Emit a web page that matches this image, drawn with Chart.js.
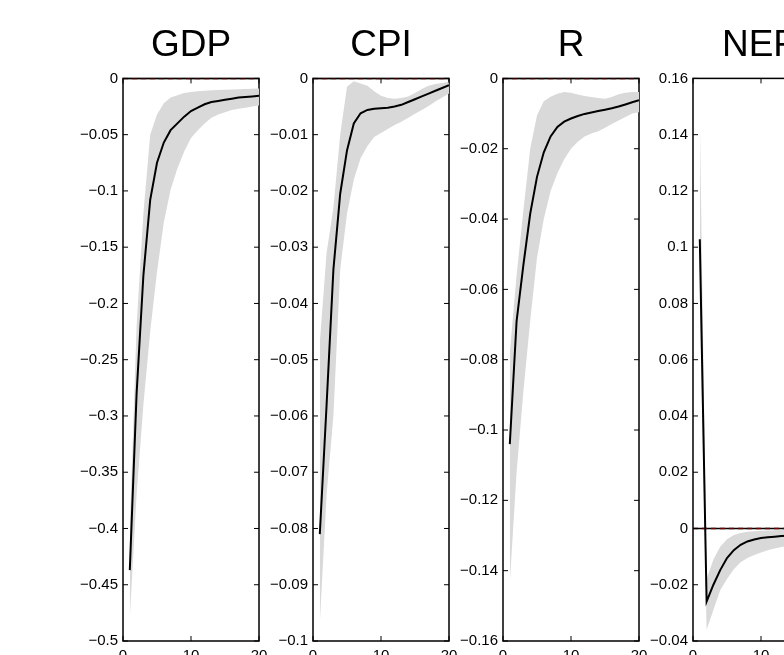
<!DOCTYPE html>
<html>
<head>
<meta charset="utf-8">
<script src="https://cdn.jsdelivr.net/npm/chart.js@4.4.0/dist/chart.umd.min.js"></script>
<style>
html, body { margin: 0; padding: 0; background: #fff; overflow: hidden; }
body { width: 784px; height: 655px; position: relative; }
canvas { position: absolute; top: 0; }
</style>
</head>
<body>
<canvas id="c0" width="256" height="700" style="left:63px"></canvas>
<canvas id="c1" width="256" height="700" style="left:253px"></canvas>
<canvas id="c2" width="256" height="700" style="left:443px"></canvas>
<canvas id="c3" width="256" height="700" style="left:633px"></canvas>
<script>
const steps = [1, 2, 3, 4, 5, 6, 7, 8, 9, 10, 11, 12, 13, 14, 15, 16, 17, 18, 19, 20];
const xTicks = [0, 10, 20];
const zeroX = [0, 20];

const titles = ['GDP', 'CPI', 'R', 'NER'];

const gdpTicks = [-0.5, -0.45, -0.4, -0.35, -0.3, -0.25, -0.2, -0.15, -0.1, -0.05, 0];
const cpiTicks = [-0.1, -0.09, -0.08, -0.07, -0.06, -0.05, -0.04, -0.03, -0.02, -0.01, 0];
const rTicks = [-0.16, -0.14, -0.12, -0.1, -0.08, -0.06, -0.04, -0.02, 0];
const nerTicks = [-0.04, -0.02, 0, 0.02, 0.04, 0.06, 0.08, 0.1, 0.12, 0.14, 0.16];

const gdpMid = [-0.437, -0.28, -0.175, -0.108, -0.075, -0.057, -0.046, -0.040, -0.034, -0.029, -0.026, -0.023, -0.021, -0.020, -0.019, -0.018, -0.017, -0.0165, -0.016, -0.0155];
const gdpLo = [-0.48, -0.37, -0.29, -0.225, -0.172, -0.128, -0.099, -0.080, -0.065, -0.053, -0.046, -0.040, -0.035, -0.032, -0.030, -0.028, -0.027, -0.026, -0.025, -0.024];
const gdpHi = [-0.40, -0.22, -0.12, -0.05, -0.032, -0.022, -0.017, -0.015, -0.013, -0.012, -0.0115, -0.011, -0.0105, -0.0102, -0.010, -0.0098, -0.0096, -0.0094, -0.0092, -0.009];

const cpiMid = [-0.081, -0.058, -0.034, -0.0205, -0.0128, -0.008, -0.0062, -0.0056, -0.0054, -0.0053, -0.0052, -0.0050, -0.0047, -0.0042, -0.0037, -0.0032, -0.0027, -0.0022, -0.0017, -0.0012];
const cpiLo = [-0.097, -0.074, -0.060, -0.034, -0.024, -0.018, -0.0142, -0.012, -0.0104, -0.0097, -0.009, -0.0083, -0.0077, -0.007, -0.0063, -0.0056, -0.0049, -0.0041, -0.0034, -0.0027];
const cpiHi = [-0.047, -0.031, -0.023, -0.010, -0.0015, -0.0005, -0.0009, -0.0013, -0.0023, -0.0031, -0.0035, -0.0036, -0.0035, -0.0032, -0.0026, -0.0019, -0.0013, -0.001, -0.0008, -0.0006];

const rMid = [-0.104, -0.069, -0.053, -0.0385, -0.028, -0.021, -0.0165, -0.0138, -0.0123, -0.0114, -0.0107, -0.0101, -0.0097, -0.0093, -0.0089, -0.0085, -0.0080, -0.0074, -0.0068, -0.0062];
const rLo = [-0.1436, -0.112, -0.089, -0.069, -0.051, -0.040, -0.032, -0.027, -0.023, -0.020, -0.018, -0.0165, -0.0157, -0.015, -0.014, -0.013, -0.012, -0.011, -0.010, -0.0096];
const rHi = [-0.078, -0.056, -0.0375, -0.020, -0.0105, -0.0065, -0.0052, -0.0044, -0.0039, -0.0041, -0.0046, -0.0050, -0.0053, -0.0056, -0.0058, -0.0053, -0.0045, -0.0041, -0.0039, -0.0039];

const nerMid = [0.1028, -0.026, -0.020, -0.0148, -0.0105, -0.0077, -0.0058, -0.0046, -0.0039, -0.0034, -0.0031, -0.0029, -0.0027, -0.0026, -0.0025, -0.0024, -0.0023, -0.0022, -0.0021, -0.002];
const nerLo = [0.08, -0.036, -0.029, -0.022, -0.018, -0.0145, -0.012, -0.0105, -0.0094, -0.0085, -0.0077, -0.0071, -0.0066, -0.0062, -0.006, -0.0058, -0.0056, -0.0054, -0.0052, -0.005];
const nerHi = [0.147, -0.018, -0.011, -0.0065, -0.0038, -0.0023, -0.0016, -0.0012, -0.001, -0.0008, -0.0007, -0.0006, -0.0005, -0.0005, -0.0004, -0.0004, -0.0004, -0.0003, -0.0003, -0.0003];

const family = '"Liberation Sans", Arial, Helvetica, sans-serif';

function fmt(v) {
  let s = String(Number(Number(v).toFixed(4)));
  return s.replace('-', '\u2212');
}

function pts(vals) {
  return vals.map((v, i) => ({x: steps[i], y: v}));
}

// matlab-like box with inward ticks
const boxPlugin = {
  id: 'box',
  beforeDatasetsDraw(chart) {
    const {ctx, chartArea: a} = chart;
    ctx.save();
    ctx.strokeStyle = '#000';
    ctx.lineWidth = 1.5;
    ctx.strokeRect(a.left, a.top, a.right - a.left, a.bottom - a.top);
    ctx.restore();
  },
  afterDatasetsDraw(chart) {
    const {ctx, chartArea: a, scales} = chart;
    ctx.save();
    ctx.strokeStyle = '#000';
    ctx.lineWidth = 1;
    ctx.beginPath();
    scales.y.ticks.forEach(t => {
      const y = scales.y.getPixelForValue(t.value);
      ctx.moveTo(a.left, y); ctx.lineTo(a.left + 5, y);
      ctx.moveTo(a.right, y); ctx.lineTo(a.right - 5, y);
    });
    scales.x.ticks.forEach(t => {
      const x = scales.x.getPixelForValue(t.value);
      ctx.moveTo(x, a.bottom); ctx.lineTo(x, a.bottom - 5);
      ctx.moveTo(x, a.top); ctx.lineTo(x, a.top + 5);
    });
    ctx.stroke();
    ctx.restore();
  }
};

function makeChart(id, title, lo, mid, hi, yTicks) {
  const zero = zeroX.map(x => ({x: x, y: 0}));
  return new Chart(document.getElementById(id), {
    type: 'line',
    data: {
      datasets: [
        {data: pts(lo), borderWidth: 0, borderColor: 'rgba(0,0,0,0)', pointRadius: 0, fill: false, order: 5},
        {data: pts(hi), borderWidth: 0, borderColor: 'rgba(0,0,0,0)', pointRadius: 0, fill: 0, backgroundColor: '#d9d9d9', order: 4},
        {data: zero, borderColor: '#000', borderWidth: 1.5, pointRadius: 0, fill: false, order: 3},
        {data: zero, borderColor: '#6b0000', borderWidth: 1.5, borderDash: [5, 4], pointRadius: 0, fill: false, order: 2},
        {data: pts(mid), borderColor: '#000', borderWidth: 2, pointRadius: 0, fill: false, order: 1}
      ]
    },
    options: {
      responsive: false,
      animation: false,
      devicePixelRatio: 1,
      layout: {padding: {left: 0, right: 60, top: 0, bottom: 0}},
      plugins: {
        legend: {display: false},
        tooltip: {enabled: false},
        title: {
          display: true,
          fullSize: false,
          text: title,
          color: '#000',
          font: {size: 37, family: family, weight: 'normal'},
          padding: {top: 24, bottom: 10}
        }
      },
      elements: {line: {tension: 0}},
      scales: {
        x: {
          type: 'linear', min: 0, max: 20,
          grid: {display: false, drawTicks: false},
          border: {display: false},
          afterBuildTicks: s => { s.ticks = xTicks.map(v => ({value: v})); },
          afterFit: s => { s.height = 59; },
          ticks: {padding: 6, color: '#000', maxRotation: 0, autoSkip: false, font: {size: 15, family: family}, callback: v => fmt(v)}
        },
        y: {
          min: yTicks[0], max: yTicks[yTicks.length - 1],
          grid: {display: false, drawTicks: false},
          border: {display: false},
          afterBuildTicks: s => { s.ticks = yTicks.map(v => ({value: v})); },
          afterFit: s => { s.width = 60; },
          ticks: {padding: 5, color: '#000', autoSkip: false, font: {size: 15, family: family}, callback: v => fmt(v)}
        }
      }
    },
    plugins: [boxPlugin]
  });
}

makeChart('c0', titles[0], gdpLo, gdpMid, gdpHi, gdpTicks);
makeChart('c1', titles[1], cpiLo, cpiMid, cpiHi, cpiTicks);
makeChart('c2', titles[2], rLo, rMid, rHi, rTicks);
makeChart('c3', titles[3], nerLo, nerMid, nerHi, nerTicks);
</script>
</body>
</html>
